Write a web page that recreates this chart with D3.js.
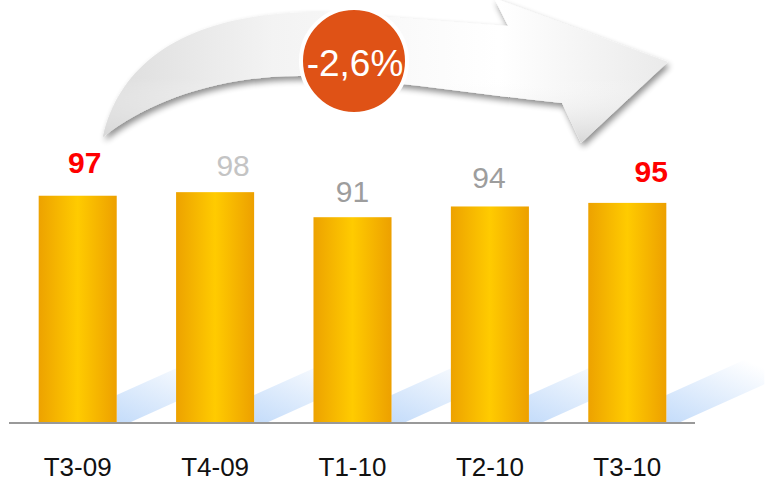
<!DOCTYPE html>
<html lang="fr">
<head>
<meta charset="UTF-8">
<script src="https://d3js.org/d3.v7.min.js"></script>
<style>
  body { margin: 0; background: #fff; }
  svg { display: block; font-family: "Liberation Sans", Arial, sans-serif; }
</style>
</head>
<body>
<script>
// data
const quarters = ["T3-09", "T4-09", "T1-10", "T2-10", "T3-10"];
const values = [97, 98, 91, 94, 95];
const change = "-2,6%";

// label styling (colour + small hand nudges as in the original slide)
const labelColor = ["#ff0000", "#c4c4c4", "#9d9d9d", "#9d9d9d", "#ff0000"];
const labelBold = [true, false, false, false, true];
const labelDx = [7, 18, 0, -1, 24];
const labelDy = [-23, -16, -15, -18, -21];

const w = 765, h = 481;
const base = 423;

const svg = d3.select("body").append("svg")
  .attr("width", w)
  .attr("height", h);

const defs = svg.append("defs");

// bar gradient
const bg = defs.append("linearGradient").attr("id", "barGrad")
  .attr("x1", 0).attr("x2", 1).attr("y1", 0).attr("y2", 0);
bg.append("stop").attr("offset", 0).attr("stop-color", "#eda200");
bg.append("stop").attr("offset", 0.5).attr("stop-color", "#ffcb00");
bg.append("stop").attr("offset", 1).attr("stop-color", "#eda000");

// reflection gradient
const sg = defs.append("linearGradient").attr("id", "shadowGrad")
  .attr("x1", 0).attr("y1", 1).attr("x2", 0.6).attr("y2", 0);
sg.append("stop").attr("offset", 0).attr("stop-color", "#c4dcfa");
sg.append("stop").attr("offset", 1).attr("stop-color", "#ffffff");

// arrow gradient
const ag = defs.append("linearGradient").attr("id", "arrowGrad")
  .attr("x1", 0).attr("x2", 1).attr("y1", 0).attr("y2", 0);
ag.append("stop").attr("offset", 0).attr("stop-color", "#dcdcdc");
ag.append("stop").attr("offset", 0.3).attr("stop-color", "#f3f3f3");
ag.append("stop").attr("offset", 0.7).attr("stop-color", "#ffffff");
ag.append("stop").attr("offset", 1).attr("stop-color", "#eaeaea");

const ag2 = defs.append("linearGradient").attr("id", "arrowShade")
  .attr("x1", 0).attr("x2", 0).attr("y1", 0).attr("y2", 1);
ag2.append("stop").attr("offset", 0).attr("stop-color", "#ffffff").attr("stop-opacity", 0);
ag2.append("stop").attr("offset", 0.55).attr("stop-color", "#ffffff").attr("stop-opacity", 0);
ag2.append("stop").attr("offset", 1).attr("stop-color", "#d0d0d0").attr("stop-opacity", 0.8);

const f = defs.append("filter").attr("id", "drop")
  .attr("x", "-10%").attr("y", "-10%").attr("width", "130%").attr("height", "140%");
f.append("feGaussianBlur").attr("in", "SourceAlpha").attr("stdDeviation", 3).attr("result", "b");
f.append("feOffset").attr("in", "b").attr("dx", 2).attr("dy", 4).attr("result", "o");
f.append("feComponentTransfer").attr("in", "o").attr("result", "s")
  .append("feFuncA").attr("type", "linear").attr("slope", 0.45);
const fm = f.append("feMerge");
fm.append("feMergeNode").attr("in", "s");
fm.append("feMergeNode").attr("in", "SourceGraphic");

// scales
const x = d3.scaleBand()
  .domain(quarters)
  .range([9, 696])
  .paddingInner(0.432)
  .paddingOuter(0.216);

const y = d3.scaleLinear()
  .domain([33.5, 100])
  .range([base, 185]);

// curved arrow
const arrowPath = "M103,137 C120,60 190,12 320,12 L508,26 L494,-2 L668,62 L581,143 L562,103 " +
  "C480,95 380,78 300,76 C220,76 150,100 103,137 Z";
svg.append("path")
  .attr("d", arrowPath)
  .attr("fill", "url(#arrowGrad)")
  .attr("filter", "url(#drop)");
svg.append("path")
  .attr("d", arrowPath)
  .attr("fill", "url(#arrowShade)");

// reflections behind bars
svg.append("g").selectAll("path")
  .data(quarters)
  .join("path")
  .attr("d", d => {
    const xr = x(d) + x.bandwidth();
    const L = 98, s = 0.45;
    return `M${xr},${base - 28} L${xr + L},${base - 28 - s * L} L${xr + L},${base - s * (L - 12)} L${xr + 12},${base} L${xr},${base} Z`;
  })
  .attr("fill", "url(#shadowGrad)");

// bars
svg.append("g").selectAll("rect")
  .data(values)
  .join("rect")
  .attr("x", (d, i) => x(quarters[i]))
  .attr("y", d => y(d))
  .attr("width", x.bandwidth())
  .attr("height", d => base - y(d))
  .attr("fill", "url(#barGrad)");

// baseline
svg.append("line")
  .attr("x1", 9).attr("x2", 695)
  .attr("y1", base).attr("y2", base)
  .attr("stroke", "#999")
  .attr("stroke-width", 2);

// value labels
svg.append("g").selectAll("text")
  .data(values)
  .join("text")
  .attr("x", (d, i) => x(quarters[i]) + x.bandwidth() / 2 + labelDx[i])
  .attr("y", (d, i) => y(d) + labelDy[i])
  .attr("text-anchor", "middle")
  .attr("font-size", 30)
  .attr("font-weight", (d, i) => labelBold[i] ? "bold" : "normal")
  .attr("fill", (d, i) => labelColor[i])
  .text(d => d);

// category labels
svg.append("g").selectAll("text")
  .data(quarters)
  .join("text")
  .attr("x", d => x(d) + x.bandwidth() / 2)
  .attr("y", 476)
  .attr("text-anchor", "middle")
  .attr("font-size", 26)
  .attr("fill", "#111")
  .text(d => d);

// change badge
svg.append("circle")
  .attr("cx", 354).attr("cy", 61).attr("r", 53)
  .attr("fill", "#df5216")
  .attr("stroke", "#fff")
  .attr("stroke-width", 4);
svg.append("text")
  .attr("x", 355).attr("y", 76)
  .attr("text-anchor", "middle")
  .attr("font-size", 37)
  .attr("fill", "#fff")
  .text(change);
</script>
</body>
</html>
